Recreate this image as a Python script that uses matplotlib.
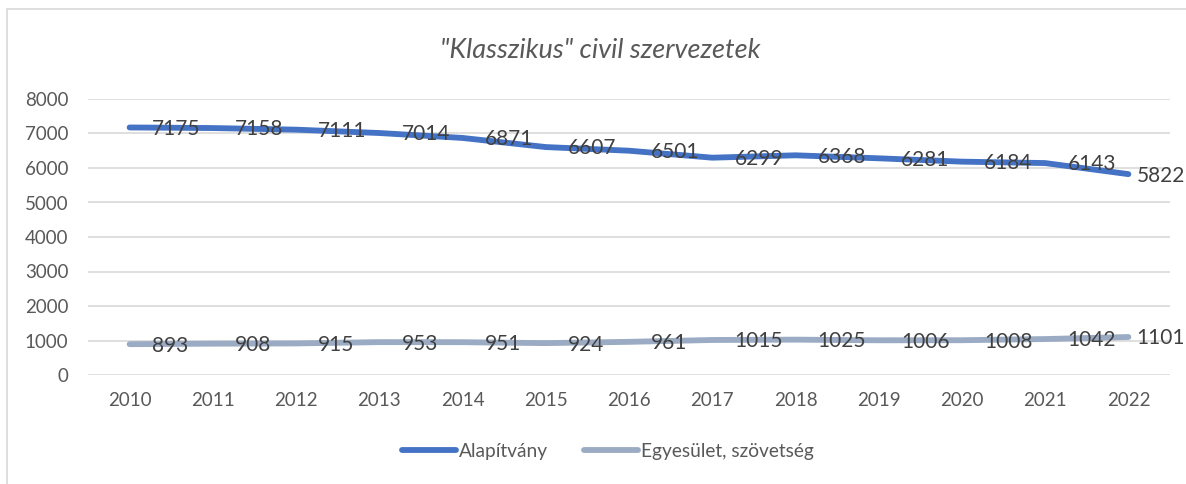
import matplotlib.pyplot as plt
from matplotlib.patches import Rectangle

evek = [2010, 2011, 2012, 2013, 2014, 2015, 2016, 2017, 2018, 2019, 2020, 2021, 2022]
alapitvany = [7175, 7158, 7111, 7014, 6871, 6607, 6501, 6299, 6368, 6281, 6184, 6143, 5822]
egyesulet = [893, 908, 915, 953, 951, 924, 961, 1015, 1025, 1006, 1008, 1042, 1101]

szoveg = '#595959'
plt.rcParams['font.family'] = ['Lato', 'DejaVu Sans']

fig = plt.figure(figsize=(11.86, 4.84), dpi=100)
ax = fig.add_axes([88 / 1186, 1 - 375 / 484, (1170 - 88) / 1186, (375 - 99) / 484])

# keret
fig.patches.append(Rectangle((7 / 1186, -0.1), 1.2, 1 - 9 / 484 + 0.1, transform=fig.transFigure,
                             fill=False, edgecolor='#d9d9d9', linewidth=1.2))

x = list(range(len(evek)))
ax.plot(x, alapitvany, color='#4472C4', linewidth=4.2, solid_capstyle='round', label='Alapítvány')
ax.plot(x, egyesulet, color='#9AABC3', linewidth=4.2, solid_capstyle='round', label='Egyesület, szövetség')

for sor in (alapitvany, egyesulet):
    for i, v in enumerate(sor):
        # az utolsó címke beljebb, hogy ne lógjon ki
        dx = 6 if i == len(sor) - 1 else 16
        ax.annotate(str(v), (i, v), xytext=(dx, -1), textcoords='offset points',
                    ha='left', va='center', fontsize=15, color='#404040', annotation_clip=False)

ax.set_xlim(-0.5, len(evek) - 0.5)
ax.set_ylim(0, 8000)
ax.set_yticks(range(0, 8001, 1000))
ax.set_xticks(x)
ax.set_xticklabels([str(e) for e in evek])
ax.grid(axis='y', color='#d9d9d9', linewidth=1.2)
ax.set_axisbelow(True)
for s in ax.spines.values():
    s.set_visible(False)
ax.tick_params(length=0, labelsize=13.5, colors=szoveg)
ax.tick_params(axis='x', pad=12)
ax.tick_params(axis='y', pad=14)

fig.text(600 / 1186, 1 - 50 / 484, '"Klasszikus" civil szervezetek', ha='center', va='center',
         fontsize=19.5, style='italic', color=szoveg)

fig.legend(loc='center', bbox_to_anchor=(608 / 1186, 1 - 451 / 484), ncol=2, frameon=False,
           fontsize=13.75, labelcolor=szoveg, handlelength=2.85, handletextpad=0.15, columnspacing=1.85)

fig.savefig('out.png', dpi=100)
